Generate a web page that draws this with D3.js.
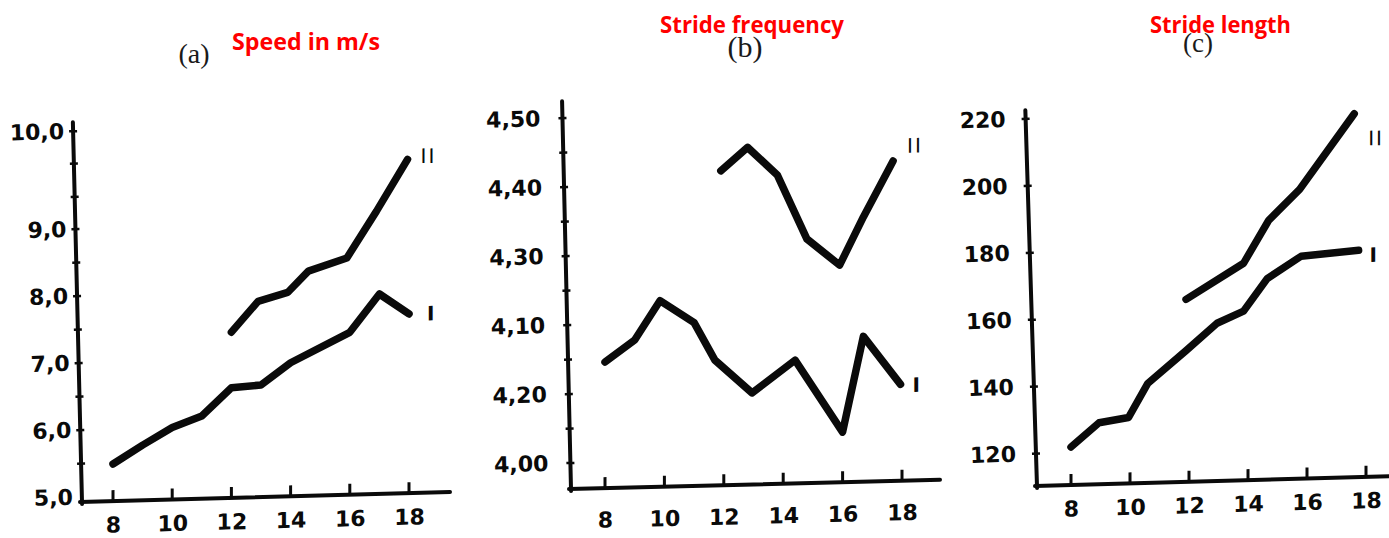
<!DOCTYPE html>
<html>
<head>
<meta charset="utf-8">
<script src="https://cdn.jsdelivr.net/npm/d3@7"></script>
<style>
  html, body { margin: 0; padding: 0; background: #fff; }
  svg { display: block; }
</style>
</head>
<body>
<svg id="chart" width="1389" height="538"></svg>
<script>
// ---- Data: age (years) on x, three measures on y; series I and II ----
const xTickAges = [8, 10, 12, 14, 16, 18];

// (a) Speed in m/s
const speedAgesI  = [8, 9, 10, 11, 12, 13, 14, 16, 17, 18];
const speedI      = [5.48, 5.75, 6.0, 6.16, 6.57, 6.6, 6.92, 7.35, 7.91, 7.6];
const speedAgesII = [12, 12.9, 13.9, 14.6, 15.9, 16.9, 17.95];
const speedII     = [7.4, 7.85, 7.97, 8.28, 8.46, 9.1, 9.62];
const speedTicks      = [5, 6, 7, 8, 9, 10];
const speedTickLabels = ["5,0", "6,0", "7,0", "8,0", "9,0", "10,0"];
const speedMarks      = [5.5, 6, 6.5, 7, 7.5, 8, 8.5, 9, 9.33, 9.67, 10];

// (b) Stride frequency
const freqAgesI  = [8, 9, 9.85, 11, 11.7, 12.95, 14.4, 16, 16.7, 17.95];
const freqI      = [4.145, 4.176, 4.232, 4.199, 4.144, 4.095, 4.141, 4.035, 4.173, 4.102];
const freqAgesII = [11.9, 12.8, 13.8, 14.8, 15.9, 16.7, 17.7];
const freqII     = [4.418, 4.451, 4.41, 4.316, 4.277, 4.346, 4.426];
const freqTicks      = [4.0, 4.1, 4.2, 4.3, 4.4, 4.5];
const freqTickLabels = ["4,00", "4,20", "4,10", "4,30", "4,40", "4,50"];
const freqMarks      = [4.0, 4.05, 4.1, 4.15, 4.2, 4.25, 4.3, 4.35, 4.4, 4.45, 4.5];

// (c) Stride length
const lenAgesI  = [8, 8.95, 9.95, 10.6, 11.9, 12.95, 13.85, 14.65, 15.8, 17.75];
const lenI      = [121.7, 128.7, 130, 140, 149.5, 157.4, 160.8, 170.3, 176.7, 178];
const lenAgesII = [11.9, 13.85, 14.7, 15.75, 17.6];
const lenII     = [164.8, 175.1, 187.7, 196.7, 218.8];
const lenTicks      = [120, 140, 160, 180, 200, 220];
const lenTickLabels = ["120", "140", "160", "180", "200", "220"];
const lenMarks      = [120, 140, 160, 180, 200, 220];

// ---- Panel layout: origin = axis corner; ky tilts the baseline, kx leans the y spine ----
const panels = [
  {
    letter: "(a)", letterPos: [194, 63], letterSize: 28,
    title: "Speed in m/s", titlePos: [232, 50], titleWidth: 148,
    origin: [82, 502], kx: 0.024, ky: -0.027,
    xRange: [31, 327], yDomain: speedTicks, yRange: [-5, -72, -139, -206, -273, -371],
    yTop: -380, xRight: 368, labelGap: 9, xLabelDy: 24,
    ticks: speedTicks, tickLabels: speedTickLabels, marks: speedMarks,
    agesI: speedAgesI, valsI: speedI, agesII: speedAgesII, valsII: speedII,
    labII: [13, -3], labI: [18, 0]
  },
  {
    letter: "(b)", letterPos: [745, 57], letterSize: 30,
    title: "Stride frequency", titlePos: [660, 33], titleWidth: 184,
    origin: [571, 489], kx: 0.023, ky: -0.025,
    xRange: [34, 331], yDomain: [4.0, 4.5], yRange: [-26, -371],
    yTop: -388, xRight: 369, labelGap: 22, xLabelDy: 32,
    ticks: freqTicks, tickLabels: freqTickLabels, marks: freqMarks,
    agesI: freqAgesI, valsI: freqI, agesII: freqAgesII, valsII: freqII,
    labII: [14, -15], labI: [12, 1]
  },
  {
    letter: "(c)", letterPos: [1198, 52], letterSize: 27,
    title: "Stride length", titlePos: [1150, 33], titleWidth: 141,
    origin: [1037, 486], kx: 0.031, ky: -0.028,
    xRange: [34, 329], yDomain: [120, 220], yRange: [-32.4, -367.4],
    yTop: -376, xRight: 356, labelGap: 20, xLabelDy: 24,
    ticks: lenTicks, tickLabels: lenTickLabels, marks: lenMarks,
    agesI: lenAgesI, valsI: lenI, agesII: lenAgesII, valsII: lenII,
    labII: [14, 25], labI: [11, 5]
  }
];

const svg = d3.select("#chart");
const ink = "#0a0a0a";
const labelFont = "'DejaVu Sans', sans-serif";

panels.forEach(p => {
  // Headings
  svg.append("text")
    .attr("x", p.letterPos[0]).attr("y", p.letterPos[1])
    .attr("text-anchor", "middle")
    .attr("font-family", "'Liberation Serif', 'DejaVu Serif', serif")
    .attr("font-size", p.letterSize)
    .attr("fill", "#1a1a1a")
    .text(p.letter);

  svg.append("text")
    .attr("x", p.titlePos[0]).attr("y", p.titlePos[1])
    .attr("font-family", "'Comic Sans MS', 'Open Sans', sans-serif")
    .attr("font-weight", "bold")
    .attr("font-size", 24)
    .attr("textLength", p.titleWidth)
    .attr("lengthAdjust", "spacingAndGlyphs")
    .attr("fill", "#ff0000")
    .text(p.title);

  // Plot frame with a slightly tilted baseline
  const g = svg.append("g")
    .attr("transform", `matrix(1, ${p.ky}, 0, 1, ${p.origin[0]}, ${p.origin[1]})`);
  // Y spine, its marks and labels lean a little
  const gy = g.append("g")
    .attr("transform", `matrix(1, 0, ${p.kx}, 1, 0, 0)`);

  const x = d3.scaleLinear().domain([8, 18]).range(p.xRange);
  const y = d3.scaleLinear().domain(p.yDomain).range(p.yRange);

  // Y axis labels via d3.axisLeft
  const labelFor = d3.scaleOrdinal().domain(p.ticks).range(p.tickLabels);
  const yAxis = d3.axisLeft(y)
    .tickValues(p.ticks)
    .tickSize(0)
    .tickPadding(p.labelGap)
    .tickFormat(v => labelFor(v));
  const ya = gy.append("g").call(yAxis);
  ya.select(".domain").remove();
  ya.selectAll("text")
    .attr("font-family", labelFont)
    .attr("font-weight", "bold")
    .attr("font-size", 22)
    .attr("fill", ink);

  // X axis labels
  const xAxis = d3.axisBottom(x)
    .tickValues(xTickAges)
    .tickSize(0)
    .tickPadding(0)
    .tickFormat(d3.format("d"));
  const xa = g.append("g").call(xAxis);
  xa.select(".domain").remove();
  xa.selectAll("text")
    .attr("dy", null)
    .attr("y", p.xLabelDy)
    .attr("dominant-baseline", "central")
    .attr("font-family", labelFont)
    .attr("font-weight", "bold")
    .attr("font-size", 22)
    .attr("fill", ink);

  // Spines
  gy.append("line")
    .attr("x1", 0).attr("y1", 2).attr("x2", 0).attr("y2", p.yTop)
    .attr("stroke", ink).attr("stroke-width", 4).attr("stroke-linecap", "round");
  g.append("line")
    .attr("x1", -2).attr("y1", 0).attr("x2", p.xRight).attr("y2", 0)
    .attr("stroke", ink).attr("stroke-width", 4).attr("stroke-linecap", "round");

  // Cross marks on the y spine
  gy.append("g").selectAll("line")
    .data(p.marks)
    .join("line")
    .attr("x1", -4).attr("x2", 4)
    .attr("y1", d => y(d)).attr("y2", d => y(d))
    .attr("stroke", ink).attr("stroke-width", 2.5);

  // Upward ticks on the x spine
  g.append("g").selectAll("line")
    .data(xTickAges)
    .join("line")
    .attr("x1", d => x(d)).attr("x2", d => x(d))
    .attr("y1", 0).attr("y2", -11)
    .attr("stroke", ink).attr("stroke-width", 3);

  // Series lines
  const line = d3.line().x(d => x(d[0])).y(d => y(d[1]));
  const seriesI  = d3.zip(p.agesI, p.valsI);
  const seriesII = d3.zip(p.agesII, p.valsII);

  [seriesI, seriesII].forEach(s => {
    g.append("path")
      .datum(s)
      .attr("d", line)
      .attr("fill", "none")
      .attr("stroke", ink)
      .attr("stroke-width", 7.5)
      .attr("stroke-linejoin", "round")
      .attr("stroke-linecap", "round");
  });

  // Series labels next to the line ends
  const endI = seriesI[seriesI.length - 1];
  const endII = seriesII[seriesII.length - 1];
  g.append("text")
    .attr("x", x(endII[0]) + p.labII[0])
    .attr("y", y(endII[1]) + p.labII[1])
    .attr("dominant-baseline", "central")
    .attr("font-family", labelFont)
    .attr("font-size", 20)
    .attr("letter-spacing", 2)
    .attr("fill", ink)
    .text("II");
  g.append("text")
    .attr("x", x(endI[0]) + p.labI[0])
    .attr("y", y(endI[1]) + p.labI[1])
    .attr("dominant-baseline", "central")
    .attr("font-family", labelFont)
    .attr("font-weight", "bold")
    .attr("font-size", 20)
    .attr("fill", ink)
    .text("I");
});
</script>
</body>
</html>
